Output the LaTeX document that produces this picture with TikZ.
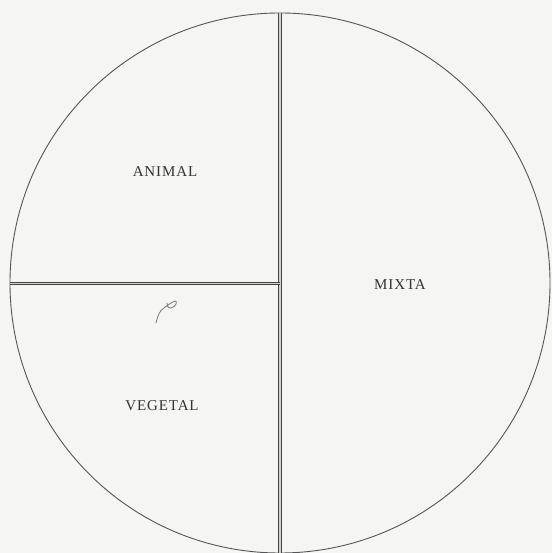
\documentclass[tikz,border=0pt]{standalone}
\usepackage{fontspec}
\setmainfont{Liberation Serif}
\usetikzlibrary{calc}
\definecolor{paper}{HTML}{F5F5F3}
\definecolor{ink}{HTML}{555555}
\tikzset{
  rim/.style={draw=ink, line width=0.9pt},
  divider/.style={draw=ink!80!black, line width=1pt, double=paper!85!black, double distance=1.4pt},
  lbl/.style={font=\fontsize{15}{15}\selectfont\addfontfeatures{LetterSpace=6}, text=black!80, inner sep=0pt},
  scrib/.style={draw=ink!80, line width=0.8pt, line cap=round}
}
\begin{document}
\begin{tikzpicture}[x=1pt,y=1pt]
\fill[paper] (0,0) rectangle (552,553);
\useasboundingbox (0,0) rectangle (552,553);
\coordinate (c) at (280,270);
\coordinate (top) at (280,540);
\coordinate (bot) at (280,0);
\coordinate (lft) at (10,269.5);
\coordinate (mid) at (280,269.5);
\draw[rim] (c) circle (270);
\draw[divider] (top) -- (bot);
\draw[divider] (lft) -- (mid);
\node[lbl] (animal) at (165,381) {ANIMAL};
\node[lbl] (mixta) at (400,268) {MIXTA};
\node[lbl] (vegetal) at (162,147) {VEGETAL};
\draw[scrib] (156,230) .. controls (158,238) and (160,243) .. (164,245)
  .. controls (168,248) and (172,251) .. (175,252)
  .. controls (178,252) and (176,246) .. (171,245)
  .. controls (168,245) and (166,248) .. (167,250);
\end{tikzpicture}
\end{document}
